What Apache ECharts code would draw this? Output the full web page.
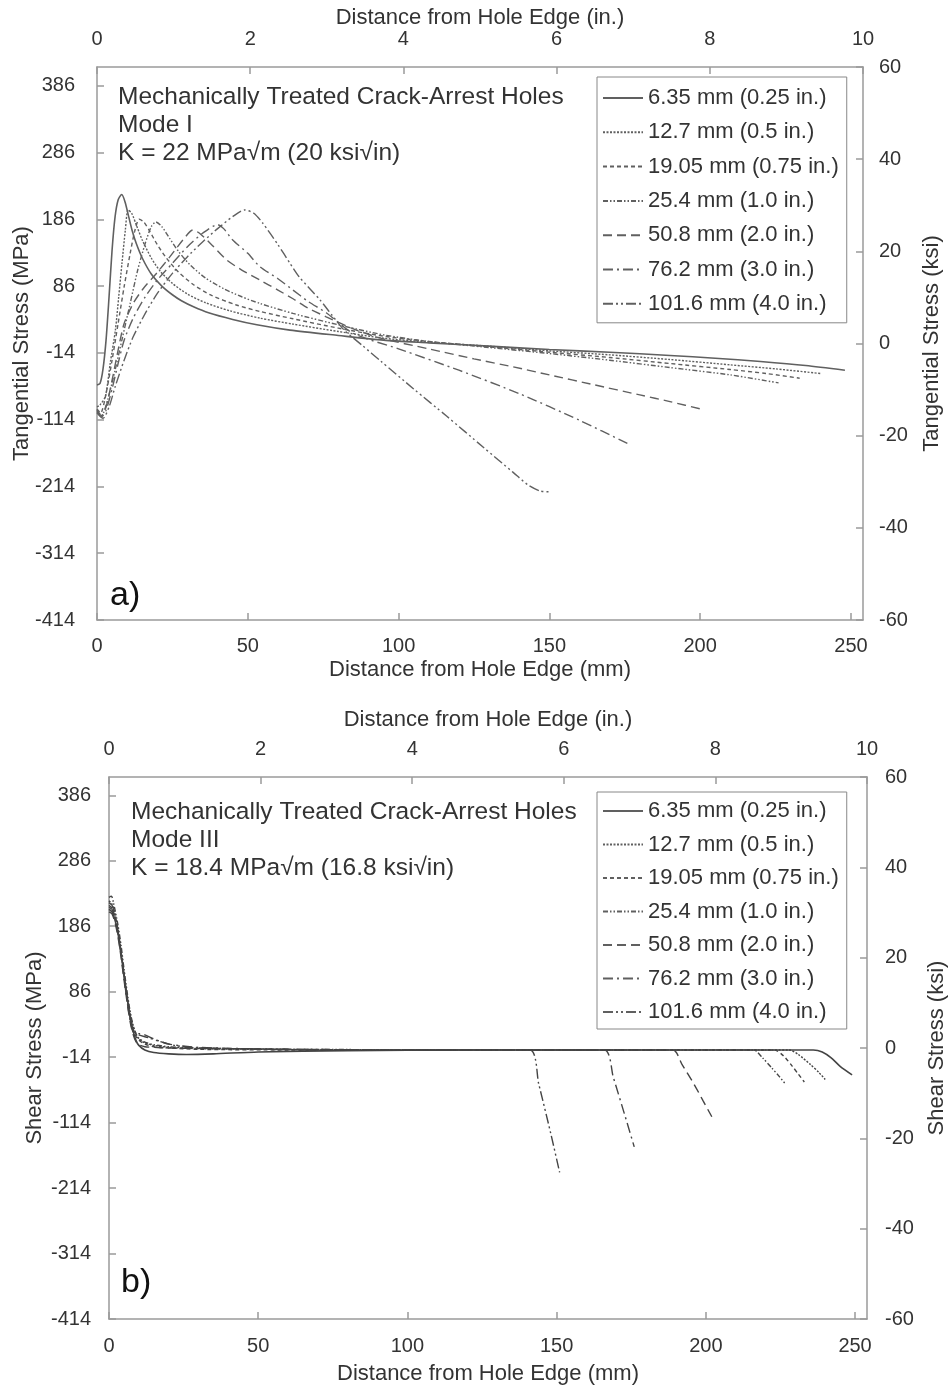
<!DOCTYPE html>
<html>
<head>
<meta charset="utf-8">
<script src="https://cdn.jsdelivr.net/npm/echarts@6/dist/echarts.min.js"></script>
<style>
  html, body { margin: 0; padding: 0; background: #fff; }
  #chart { width: 948px; height: 1390px; }
</style>
</head>
<body>
<div id="chart"></div>
<script>
// hole sizes (legend entries)
const holeSizes = [
  "6.35 mm (0.25 in.)",
  "12.7 mm (0.5 in.)",
  "19.05 mm (0.75 in.)",
  "25.4 mm (1.0 in.)",
  "50.8 mm (2.0 in.)",
  "76.2 mm (3.0 in.)",
  "101.6 mm (4.0 in.)"
];

// tick labels
const mpaTicks = [-414, -314, -214, -114, -14, 86, 186, 286, 386];
const ksiTicks = [-60, -40, -20, 0, 20, 40, 60];
const mmTicks = [0, 50, 100, 150, 200, 250];
const inTicks = [0, 2, 4, 6, 8, 10];

// Mode I tangential stress, [distance mm, stress MPa]
const modeI_635 = [[0,-62],[1,-60],[2,-38],[3,5],[4,70],[5,140],[6,190],[7,215],[8.2,223],[9.3,212],[10.5,190],[11.6,170],[13,150],[15,128],[18,104],[21.5,86],[25,73],[28,64],[32,55],[37,46],[45,36],[53,28],[64,20],[80,12],[95,5],[110,1],[130,-4],[150,-9],[170,-13],[190,-18],[205,-22],[220,-27],[235,-33],[248,-40]];
const modeI_127 = [[0,-95],[1,-92],[2.8,-79],[4.4,-29],[6.1,20],[7.2,70],[8.3,121],[9.4,170],[10.3,200],[11.5,195],[13,178],[15,155],[18,128],[21,108],[25,90],[30,74],[36,61],[44,49],[54,38],[65,29],[80,18],[95,8],[110,2],[130,-4],[150,-11],[170,-17],[190,-24],[210,-32],[225,-38],[240,-45]];
const modeI_1905 = [[0,-98],[1.2,-104],[3,-75],[5,-25],[7,30],[9,85],[11,135],[12.5,168],[14,186],[15.5,182],[17.5,168],[20,148],[23,128],[27,107],[32,88],[38,72],[46,58],[54,48],[65,37],[80,23],[95,11],[110,3],[130,-5],[150,-13],[170,-21],[190,-30],[210,-39],[222,-45],[233,-52]];
const modeI_254 = [[0,-100],[1.5,-108],[3.5,-85],[6,-40],[8.5,10],[11,60],[13.5,110],[16,150],[18,175],[19.5,182],[21.5,175],[24,158],[27,138],[31,117],[36,98],[42,82],[48,70],[54,60],[65,45],[80,28],[95,13],[110,3],[130,-6],[150,-15],[170,-25],[190,-36],[210,-47],[226,-59]];
const modeI_508 = [[0,-100],[1.5,-108],[3,-95],[5,-55],[7,-10],[9,30],[12,60],[15.3,82],[19.9,106],[24.2,130],[28.5,155],[31.8,170],[34,165],[38,148],[43,125],[48,110],[54,95],[60,80],[65,67],[70,53],[76,40],[85,22],[94,8],[110,-8],[125,-23],[138,-35],[150,-47],[165,-62],[180,-77],[190,-87],[201,-99]];
const modeI_762 = [[0,-102],[1.5,-110],[3,-100],[5,-68],[7,-30],[9,5],[12,38],[16,70],[20,95],[25,120],[30,145],[35,165],[40,178],[42,172],[45,155],[50,135],[54,115],[60,97],[65,80],[70,63],[76,46],[85,15],[100,-8],[120,-40],[140,-75],[160,-115],[176,-150]];
const modeI_1016 = [[0,-104],[2,-112],[4,-95],[6,-65],[9,-25],[12,10],[16,45],[20,75],[25,105],[30,130],[35,152],[40,172],[45,190],[49,200],[52,195],[55,180],[60,148],[64,120],[67,100],[74,65],[78,42],[82,20],[88,-3],[94,-26],[105,-68],[116,-109],[128,-155],[138,-193],[143,-212],[147,-221],[150,-222]];

// Mode III shear stress, [distance mm, stress MPa]
const modeIII_635 = [[0,212],[1,208],[2,196],[3,175],[4,145],[5,112],[6,80],[7,50],[8,28],[9,12],[10,4],[12,-3],[15,-7],[20,-9],[26,-10],[35,-9],[50,-6],[80,-4],[120,-3],[160,-3],[200,-3],[236,-3],[239,-6],[242,-15],[245,-28],[249,-41]];
const modeIII_127 = [[0,225],[1,220],[2,205],[3,182],[4,150],[5,115],[6,82],[7,55],[8,35],[9,22],[10,14],[12,8],[15,4],[20,1],[30,-1],[50,-2],[80,-3],[150,-3],[200,-3],[228,-3],[231,-10],[235,-25],[238,-38],[240,-48]];
const modeIII_1905 = [[0,218],[1,214],[2,200],[3,178],[4,148],[5,113],[6,78],[7,50],[8,30],[9,18],[10,12],[12,6],[15,2],[20,0],[30,-2],[60,-3],[150,-3],[200,-3],[223,-3],[226,-12],[229,-28],[231,-40],[233,-52]];
const modeIII_254 = [[0,230],[0.8,232],[1.5,222],[3,188],[4,158],[5,122],[6,88],[7,58],[8,36],[9,22],[10,15],[12,9],[15,5],[20,2],[30,0],[60,-2],[150,-3],[200,-3],[216,-3],[219,-15],[222,-30],[224.5,-43],[226.5,-54]];
const modeIII_508 = [[0,208],[1,205],[2,192],[3,170],[4,140],[5,105],[6,72],[7,42],[8,22],[9,10],[10,5],[12,2],[15,1],[20,0],[40,-1],[80,-3],[150,-3],[189,-3],[192,-25],[196,-55],[199,-80],[202,-105]];
const modeIII_762 = [[0,215],[1,212],[2,198],[3,175],[4,144],[5,108],[6,74],[7,44],[8,25],[9,22],[10,22],[12,20],[15,14],[20,6],[30,1],[60,-2],[120,-3],[166,-3],[169,-45],[173,-105],[176,-151]];
const modeIII_1016 = [[0,222],[1,218],[2,204],[3,180],[4,148],[5,112],[6,78],[7,48],[8,28],[10,20],[13,16],[17,10],[22,4],[30,0],[60,-2],[100,-3],[141,-3],[144,-55],[148,-130],[151,-190]];

const modeIData = [modeI_635, modeI_127, modeI_1905, modeI_254, modeI_508, modeI_762, modeI_1016];
const modeIIIData = [modeIII_635, modeIII_127, modeIII_1905, modeIII_254, modeIII_508, modeIII_762, modeIII_1016];

// line dash patterns per hole size
const dashes = ["solid", [2, 1.5], [4, 3], [5, 2, 1.5, 2, 1.5, 2], [9, 5], [10, 4, 2, 4], [10, 3, 2, 3, 2, 3]];

const font = "'Liberation Sans', Arial, sans-serif";
const axisColor = "#9a9a9a";
const textColor = "#333";

const axisLine = { onZero: false, lineStyle: { color: axisColor, width: 1.5 } };
const nameStyle = { color: textColor, fontSize: 22, fontFamily: font };

function mmAxis(gridIndex, margin, nameGap) {
  return {
    type: "value", gridIndex: gridIndex, position: "bottom",
    min: mmTicks[0], max: 254, interval: 50,
    name: "Distance from Hole Edge (mm)", nameLocation: "middle", nameGap: nameGap, nameMoveOverlap: false,
    nameTextStyle: nameStyle, axisLine: axisLine,
    axisTick: { inside: true, length: 7, lineStyle: { color: axisColor, width: 1.5 } },
    axisLabel: { color: textColor, fontSize: 20, fontFamily: font, margin: margin, showMaxLabel: false },
    splitLine: { show: false }
  };
}
function inAxis(gridIndex, margin, nameGap) {
  return {
    type: "value", gridIndex: gridIndex, position: "top",
    min: inTicks[0], max: inTicks[inTicks.length - 1], interval: 2,
    name: "Distance from Hole Edge (in.)", nameLocation: "middle", nameGap: nameGap, nameMoveOverlap: false,
    nameTextStyle: nameStyle, axisLine: axisLine,
    axisTick: { inside: true, length: 7, lineStyle: { color: axisColor, width: 1.5 } },
    axisLabel: { color: textColor, fontSize: 20, fontFamily: font, margin: margin },
    splitLine: { show: false }
  };
}
function mpaAxis(gridIndex, name, margin, nameGap) {
  return {
    type: "value", gridIndex: gridIndex, position: "left",
    min: -414, max: 414,
    name: name, nameLocation: "middle", nameGap: nameGap, nameMoveOverlap: false,
    nameTextStyle: nameStyle, axisLine: axisLine,
    axisTick: { inside: true, length: 7, customValues: mpaTicks, lineStyle: { color: axisColor, width: 1.5 } },
    axisLabel: { color: textColor, fontSize: 20, fontFamily: font, margin: margin, customValues: mpaTicks },
    splitLine: { show: false }
  };
}
function ksiAxis(gridIndex, name, margin, nameGap) {
  return {
    type: "value", gridIndex: gridIndex, position: "right",
    min: ksiTicks[0], max: ksiTicks[ksiTicks.length - 1], interval: 20,
    name: name, nameLocation: "middle", nameGap: nameGap, nameMoveOverlap: false,
    nameTextStyle: nameStyle, axisLine: axisLine,
    axisTick: { inside: true, length: 7, lineStyle: { color: axisColor, width: 1.5 } },
    axisLabel: { color: textColor, fontSize: 20, fontFamily: font, margin: margin },
    splitLine: { show: false }
  };
}

function makeSeries(dataList, axisIndex, color) {
  return dataList.map(function (d, i) {
    return {
      name: holeSizes[i], type: "line", data: d,
      xAxisIndex: axisIndex, yAxisIndex: axisIndex,
      symbol: "none", smooth: 0.25, animation: false,
      lineStyle: { color: color, width: i === 0 ? 1.6 : 1.4, type: dashes[i] },
      itemStyle: { color: color }
    };
  });
}

function legendAt(top, gap, pad) {
  return {
    orient: "vertical", left: 597, top: top,
    data: holeSizes, selectedMode: false,
    itemWidth: 40, itemHeight: 14, itemGap: gap,
    padding: pad,
    borderColor: "#888", borderWidth: 1,
    itemStyle: { opacity: 0 },
    textStyle: { color: textColor, fontSize: 22, lineHeight: 20, fontFamily: font }
  };
}

const chart = echarts.init(document.getElementById("chart"));
chart.setOption({
  backgroundColor: "#fff",
  animation: false,
  grid: [
    { left: 97, top: 67, width: 766, height: 553, outerBoundsMode: "none", containLabel: false },
    { left: 109, top: 777, width: 758, height: 542, outerBoundsMode: "none", containLabel: false }
  ],
  xAxis: [mmAxis(0, 16, 39), inAxis(0, 18, 38), mmAxis(1, 17, 44), inAxis(1, 18, 46)],
  yAxis: [
    mpaAxis(0, "Tangential Stress (MPa)", 22, 64),
    ksiAxis(0, "Tangential Stress (ksi)", 16, 58),
    mpaAxis(1, "Shear Stress (MPa)", 18, 63),
    ksiAxis(1, "Shear Stress (ksi)", 18, 59)
  ],
  legend: [legendAt(77, 12.3, [10, 8, 8, 5]), legendAt(792, 11.5, [8, 8, 6, 5])],
  graphic: [
    {
      type: "text", left: 118, top: 83,
      style: { text: "Mechanically Treated Crack-Arrest Holes\nMode I\nK = 22 MPa\u221Am (20 ksi\u221Ain)",
        fill: textColor, font: "24.5px " + font, lineHeight: 28 }
    },
    {
      type: "text", left: 131, top: 798,
      style: { text: "Mechanically Treated Crack-Arrest Holes\nMode III\nK = 18.4 MPa\u221Am (16.8 ksi\u221Ain)",
        fill: textColor, font: "24.5px " + font, lineHeight: 28 }
    },
    { type: "text", left: 110, top: 579, style: { text: "a)", fill: "#111", font: "34px " + font } },
    { type: "text", left: 121, top: 1266, style: { text: "b)", fill: "#111", font: "34px " + font } }
  ],
  series: makeSeries(modeIData, 0, "#606060").concat(makeSeries(modeIIIData, 2, "#444"))
});
</script>
</body>
</html>
